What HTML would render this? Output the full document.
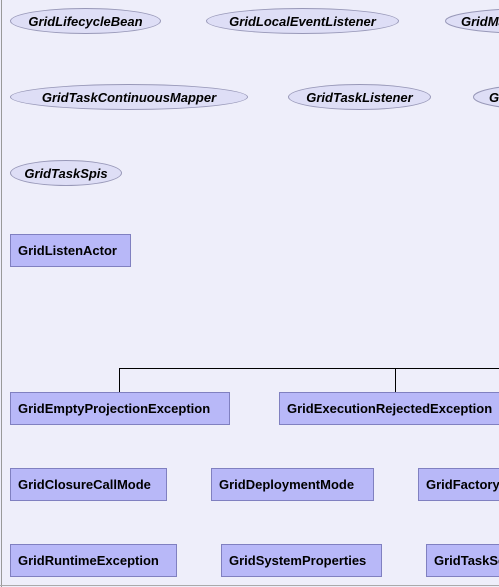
<!DOCTYPE html>
<html><head><style>
html,body{margin:0;width:499px;height:587px;overflow:hidden;}
body{background:#eeeefa;position:relative;font-family:"Liberation Sans",sans-serif;}
.e{position:absolute;height:26px;border:1px solid #9898b8;border-radius:50%;background:#dedef6;font-style:italic;font-weight:bold;font-size:13px;line-height:25px;text-align:center;white-space:nowrap;box-sizing:border-box;overflow:hidden;}
.b{position:absolute;height:33px;border:1px solid #8080c0;background:#b8b8f8;font-weight:bold;font-size:13px;line-height:31px;padding-left:7px;white-space:nowrap;box-sizing:border-box;overflow:hidden;}
.l{position:absolute;background:#000;}
svg{position:absolute;}
</style></head><body>
<div style="position:absolute;left:1px;top:0;width:1px;height:587px;background:#999"></div>
<div style="position:absolute;left:0;top:585px;width:499px;height:1px;background:#aaa"></div>
<div class="e" style="left:10px;top:8px;width:151px">GridLifecycleBean</div>
<div class="e" style="left:206px;top:8px;width:193px">GridLocalEventListener</div>
<svg style="left:445px;top:8px" width="54" height="26"><ellipse cx="90" cy="13" rx="89.5" ry="12.5" fill="#dedef6" stroke="#9898b8"/><text x="16" y="18" font-family="Liberation Sans" font-size="13" font-weight="bold" font-style="italic">GridManagementMBean</text></svg>
<div class="e" style="left:10px;top:84px;width:238px">GridTaskContinuousMapper</div>
<div class="e" style="left:288px;top:84px;width:143px">GridTaskListener</div>
<svg style="left:473px;top:84px" width="26" height="26"><ellipse cx="70" cy="13" rx="69.5" ry="12.5" fill="#dedef6" stroke="#9898b8"/><text x="16" y="18" font-family="Liberation Sans" font-size="13" font-weight="bold" font-style="italic">GridTaskSpi</text></svg>
<div class="e" style="left:10px;top:160px;width:112px">GridTaskSpis</div>
<div class="b" style="left:10px;top:234px;width:121px">GridListenActor</div>
<div class="l" style="left:119px;top:368px;width:380px;height:1px"></div>
<div class="l" style="left:119px;top:368px;width:1px;height:24px"></div>
<div class="l" style="left:395px;top:368px;width:1px;height:24px"></div>
<div class="b" style="left:10px;top:392px;width:220px">GridEmptyProjectionException</div>
<div class="b" style="left:279px;top:392px;width:220px;border-right:none">GridExecutionRejectedException</div>
<div class="b" style="left:10px;top:468px;width:157px">GridClosureCallMode</div>
<div class="b" style="left:211px;top:468px;width:163px">GridDeploymentMode</div>
<div class="b" style="left:418px;top:468px;width:81px;border-right:none">GridFactoryState</div>
<div class="b" style="left:10px;top:544px;width:167px">GridRuntimeException</div>
<div class="b" style="left:221px;top:544px;width:161px">GridSystemProperties</div>
<div class="b" style="left:426px;top:544px;width:73px;border-right:none">GridTaskSessionFull</div>
</body></html>
